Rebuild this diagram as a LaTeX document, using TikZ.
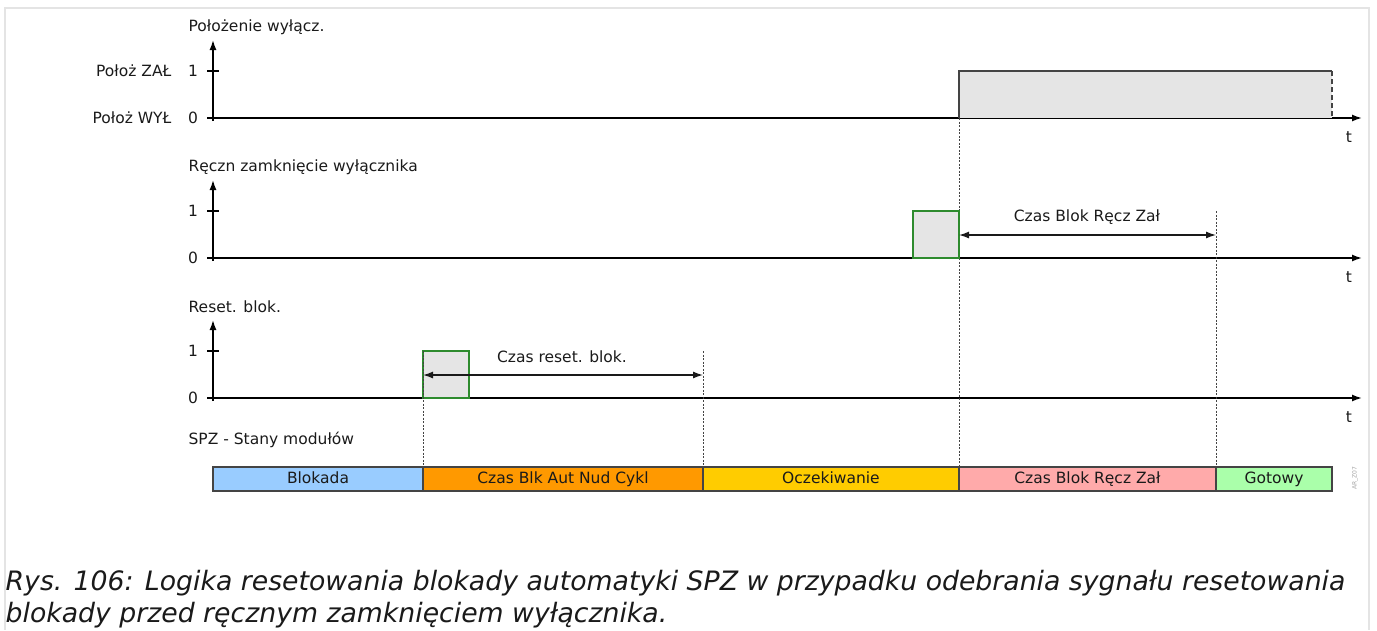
\documentclass[tikz,border=0pt]{standalone}
\usepackage{fontspec}
\setmainfont{DejaVu Sans}
\usetikzlibrary{arrows.meta, positioning, calc}
\definecolor{framegray}{HTML}{E4E4E4}
\definecolor{boxgray}{HTML}{E5E5E5}
\definecolor{edgegray}{HTML}{444444}
\definecolor{pulsegreen}{HTML}{2E8B2E}
\definecolor{inkgray}{HTML}{1A1A1A}
\definecolor{stblock}{HTML}{99CCFF}
\definecolor{stcycle}{HTML}{FF9900}
\definecolor{stwait}{HTML}{FFCC00}
\definecolor{stmanual}{HTML}{FFAAAA}
\definecolor{stready}{HTML}{AAFFAA}

\begin{document}
\begin{tikzpicture}[x=1pt, y=-1pt, >={Latex[length=10pt, width=7pt]}, line width=1.3pt,
  lbl/.style={font=\fontsize{15.5}{18}\selectfont, text=inkgray, inner sep=0pt},
  axis/.style={->, line width=1.5pt, black},
  pulse/.style={fill=boxgray, draw=pulsegreen, line width=1.2pt},
  guide/.style={edgegray, line width=0.8pt, dash pattern=on 2pt off 1.5pt},
  span/.style={<->, line width=1.3pt, inkgray},
  state/.style={draw=edgegray, line width=1.2pt, minimum height=24pt, inner sep=0pt, outer sep=0pt,
                text height=11.5pt, text depth=3.5pt,
                font=\fontsize{15.5}{18}\selectfont, text=inkgray},
  caption/.style={anchor=west, inner sep=0pt, font=\fontsize{26.7}{30}\selectfont\itshape, text=inkgray}]

\useasboundingbox (0,0) rectangle (1377,630);

% Frame
\draw[framegray, line width=1.5pt] (5,630) -- (5,8) -- (1369,8) -- (1369,630);

% =========== AXES ===========
\foreach \y/\title in {118/{Położenie wyłącz.}, 258/{Ręczn zamknięcie wyłącznika}, 398/{Reset. blok.}} {
  \node[lbl, anchor=west] at (188,\y-91) {\title};
  \draw[axis] (213,\y+3) -- (213,\y-78);
  \draw[axis] (207,\y) -- (1362,\y);
  \draw[line width=1.3pt] (207,\y-47) -- (219,\y-47);
  \node[lbl] at (193,\y-47) {1};
  \node[lbl] at (193,\y) {0};
  \node[lbl] at (1349,\y+19) {t};
}

\node[lbl, anchor=east] (on) at (172,71) {Położ ZAŁ};
\node[lbl, anchor=east] (off) at (172,118) {Położ WYŁ};

% Time marks
\coordinate (rstOn) at (423,375);
\coordinate (rstEnd) at (703,375);
\coordinate (manOn) at (959,235);
\coordinate (manEnd) at (1216,235);

% Guides down to the state bar
\draw[guide] (959,118) -- (959,467);
\draw[guide] (1216,211) -- (1216,467);
\draw[guide] (703,351) -- (703,467);

% =========== SIGNALS ===========
% breaker position
\fill[boxgray] (959,71) rectangle (1332,118);
\draw[edgegray, line width=1.2pt] (959,118) -- (959,71) -- (1332,71);
\draw[edgegray, line width=1.2pt, dash pattern=on 5pt off 3pt] (1332,71) -- (1332,118);

% manual close pulse
\draw[pulse] (913,211) rectangle (959,258);

% reset pulse
\draw[pulse] (423,351) rectangle (469,398);
\draw[guide] (423,351) -- (423,467);

% durations
\draw[span] (manOn) -- (manEnd);
\node[lbl] (manTxt) at (1087,217) {Czas Blok Ręcz Zał};
\draw[span] (rstOn) -- (rstEnd);
\node[lbl] (rstTxt) at (562,357) {Czas reset. blok.};

% =========== STATES ===========
\node[lbl, anchor=west] (stTitle) at (188,440) {SPZ - Stany modułów};

\node[state, fill=stblock, minimum width=210pt, anchor=west] (blk) at (213,479) {Blokada};
\node[state, fill=stcycle, minimum width=280pt, right=0pt of blk] (cyc) {Czas Blk Aut Nud Cykl};
\node[state, fill=stwait, minimum width=256pt, right=0pt of cyc] (wait) {Oczekiwanie};
\node[state, fill=stmanual, minimum width=257pt, right=0pt of wait] (man) {Czas Blok Ręcz Zał};
\node[state, fill=stready, minimum width=116pt, right=0pt of man] (ready) {Gotowy};

\node[font=\fontsize{6}{7}\selectfont, text=gray!70, rotate=90] (tag) at (1355,478) {AR\_Z07};

% Caption
\node[caption] (cap1) at (5,583)
  {Rys. 106: Logika resetowania blokady automatyki SPZ w przypadku odebrania sygnału resetowania};
\node[caption] (cap2) at (5,615)
  {blokady przed ręcznym zamknięciem wyłącznika.};

\end{tikzpicture}
\end{document}
